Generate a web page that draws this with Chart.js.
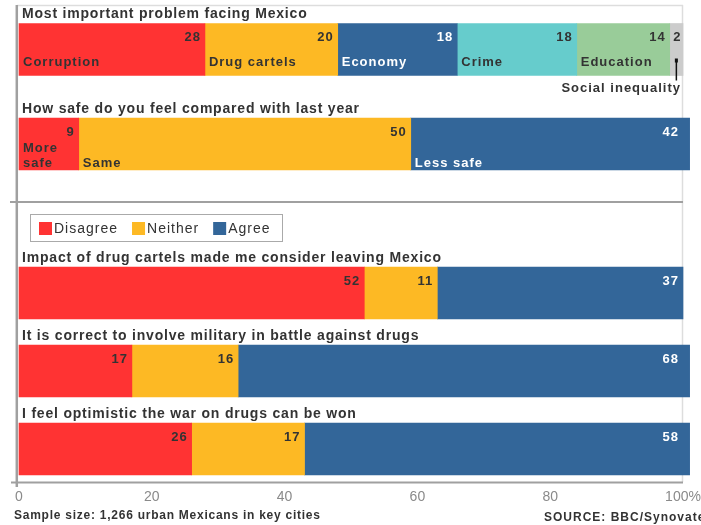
<!DOCTYPE html>
<html><head><meta charset="utf-8">
<script src="https://cdn.jsdelivr.net/npm/chart.js@4"></script>
<style>html,body{margin:0;padding:0;background:#fff}canvas{display:block}</style>
</head><body>
<canvas id="c" width="701" height="525"></canvas>
<script>
// ---------- DATA ----------
const rowTitles = [
  'Most important problem facing Mexico',
  'How safe do you feel compared with last year',
  'Impact of drug cartels made me consider leaving Mexico',
  'It is correct to involve military in battle against drugs',
  'I feel optimistic the war on drugs can be won'
];
const problemLabels = ['Corruption', 'Drug cartels', 'Economy', 'Crime', 'Education', 'Social inequality'];
const problemValues = [28, 20, 18, 18, 14, 2];
const safetyLabels = ['More safe', 'Same', 'Less safe'];
const safetyValues = [9, 50, 42];
const legendLabels = ['Disagree', 'Neither', 'Agree'];
const cartelsLeaving = [52, 11, 37];
const militaryInvolve = [17, 16, 68];
const optimisticWar = [26, 17, 58];
const xTicks = [0, 20, 40, 60, 80, 100];
const sampleNote = 'Sample size: 1,266 urban Mexicans in key cities';
const sourceNote = 'SOURCE: BBC/Synovate';

// ---------- LAYOUT / STYLE ----------
const FONT = "'Liberation Sans', Arial, Helvetica, sans-serif";
const segColors = ['#FF3333', '#FDB924', '#336699', '#66CCCC', '#99CC99', '#CCCCCC'];
const whiteText = ['#336699'];
const rowCenters = [44.5, 139, 288, 366, 444]; // position on the (hidden) vertical layout scale
const rowCatLabels = [problemLabels.slice(0, 5).concat(['']), safetyLabels, [], [], []];
const catLabelOffset = [39, 45];

const rows = [problemValues, safetyValues, cartelsLeaving, militaryInvolve, optimisticWar];
const nSeg = Math.max(...rows.map(r => r.length));
const datasets = [];
for (let k = 0; k < nSeg; k++) {
  const data = [];
  rows.forEach((r, i) => { if (r[k] != null) data.push({ x: r[k], y: rowCenters[i], row: i }); });
  datasets.push({
    label: k < legendLabels.length ? legendLabels[k] : problemLabels[k],
    data,
    backgroundColor: segColors[k],
    borderWidth: 0,
    barThickness: 52,
    clip: false
  });
}

const overlay = {
  id: 'overlay',
  beforeDatasetsDraw(chart) {
    const ctx = chart.ctx, ca = chart.chartArea;
    ctx.save();
    ctx.strokeStyle = '#dddddd'; ctx.lineWidth = 1.5;
    ctx.beginPath(); ctx.moveTo(17, ca.top + 0.5); ctx.lineTo(ca.right, ca.top + 0.5);
    ctx.moveTo(ca.right - 0.5, ca.top); ctx.lineTo(ca.right - 0.5, ca.bottom); ctx.stroke();
    ctx.strokeStyle = '#a0a0a0';
    ctx.lineWidth = 2.5;
    ctx.beginPath(); ctx.moveTo(16.8, ca.top); ctx.lineTo(16.8, ca.bottom + 5); ctx.stroke();
    ctx.lineWidth = 2;
    ctx.beginPath(); ctx.moveTo(10, 202); ctx.lineTo(ca.right, 202); ctx.stroke();
    ctx.beginPath(); ctx.moveTo(11, ca.bottom + 0.5); ctx.lineTo(ca.right, ca.bottom + 0.5); ctx.stroke();
    ctx.restore();
  },
  afterDatasetsDraw(chart) {
    const ctx = chart.ctx, ca = chart.chartArea;
    ctx.save();
    ctx.letterSpacing = '1px';
    ctx.textBaseline = 'middle';
    const rowTops = [];
    chart.data.datasets.forEach((ds, k) => {
      const meta = chart.getDatasetMeta(k);
      meta.data.forEach((el, j) => {
        const p = el.getProps(['x', 'y', 'base', 'height'], true);
        const row = ds.data[j].row;
        const val = ds.data[j].x;
        const top = p.y - p.height / 2, bottom = p.y + p.height / 2;
        rowTops[row] = top;
        const col = whiteText.includes(ds.backgroundColor) ? '#ffffff' : '#333333';
        ctx.fillStyle = col;
        ctx.font = 'bold 13px ' + FONT;
        const w = p.x - p.base;
        if (w < 20) {
          ctx.textAlign = 'center';
          ctx.fillText(String(val), (p.x + p.base) / 2 + 1, top + 14);
        } else {
          ctx.textAlign = 'right';
          ctx.fillText(String(val), Math.min(p.x, ca.right) - 4, top + 14);
        }
        const cat = (rowCatLabels[row] || [])[k];
        if (cat) {
          ctx.textAlign = 'left';
          let lines = [cat];
          if (ctx.measureText(cat).width > w - 6) lines = cat.split(' ');
          const baseY = top + catLabelOffset[row];
          lines.forEach((ln, li) => {
            ctx.fillText(ln, p.base + 4, baseY - (lines.length - 1 - li) * 15);
          });
        }
        if (row === 0 && k === nSeg - 1) {
          const cx = (p.x + p.base) / 2;
          ctx.fillStyle = '#111';
          ctx.fillRect(cx - 1.5, bottom - 17, 3, 4);
          ctx.strokeStyle = '#111'; ctx.lineWidth = 1.5;
          ctx.beginPath(); ctx.moveTo(cx, bottom - 16); ctx.lineTo(cx, bottom + 5); ctx.stroke();
          ctx.fillStyle = '#333333';
          ctx.textAlign = 'right';
          ctx.fillText(problemLabels[k], ca.right - 2, bottom + 13);
        }
      });
    });
    ctx.font = 'bold 14px ' + FONT;
    ctx.letterSpacing = '0.8px';
    ctx.fillStyle = '#333333';
    ctx.textAlign = 'left';
    rowTitles.forEach((t, i) => { ctx.fillText(t, 22, rowTops[i] - 9); });
    ctx.strokeStyle = '#aaaaaa'; ctx.lineWidth = 1;
    ctx.strokeRect(30.5, 214.5, 252, 27);
    ctx.font = '14px ' + FONT;
    ctx.letterSpacing = '1px';
    let lx = 39;
    legendLabels.forEach((lab, i) => {
      ctx.fillStyle = segColors[i];
      ctx.fillRect(lx, 222, 13, 13);
      ctx.fillStyle = '#333333';
      ctx.fillText(lab, lx + 15, 229);
      lx += 15 + ctx.measureText(lab).width + 14;
    });
    ctx.font = 'bold 12px ' + FONT;
    ctx.letterSpacing = '0.75px';
    ctx.fillStyle = '#333333';
    ctx.fillText(sampleNote, 14, 516);
    ctx.letterSpacing = '1px';
    ctx.fillText(sourceNote, 544, 518);
    ctx.restore();
  }
};

new Chart(document.getElementById('c'), {
  type: 'bar',
  data: { datasets },
  options: {
    indexAxis: 'y',
    responsive: false,
    animation: false,
    layout: { padding: { left: 19, right: 18, top: 5, bottom: 0 } },
    plugins: { legend: { display: false }, tooltip: { enabled: false } },
    scales: {
      x: {
        type: 'linear', min: 0, max: 100, stacked: true, offset: false,
        grid: { display: false, drawTicks: false },
        border: { display: false },
        afterBuildTicks: s => { s.ticks = xTicks.map(v => ({ value: v })); },
        ticks: {
          color: '#8a8a8a', padding: 7,
          font: { family: FONT, size: 14 },
          maxRotation: 0,
          callback: v => v === 100 ? v + '%' : String(v)
        },
        afterFit: s => { s.height = 43; s.paddingLeft = 0; s.paddingRight = 0; }
      },
      y: {
        type: 'linear', min: 0, max: 477, reverse: true, stacked: true, display: false,
        offset: false, bounds: 'data', grid: { offset: false }
      }
    }
  },
  plugins: [overlay]
});
</script>
</body></html>
